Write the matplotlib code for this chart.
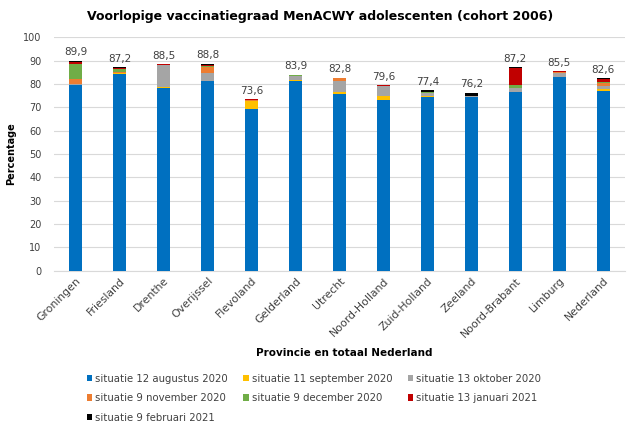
import matplotlib
matplotlib.use("Agg")
from matplotlib import pyplot as plt
import numpy as np

provincies = ["Groningen", "Friesland", "Drenthe", "Overijssel", "Flevoland", "Gelderland",
              "Utrecht", "Noord-Holland", "Zuid-Holland", "Zeeland", "Noord-Brabant",
              "Limburg", "Nederland"]

# increments per measurement moment (percentage points)
aug_2020 = [79.4, 84.5, 78.4, 81.3, 69.5, 81.2, 75.6, 73.3, 74.4, 74.5, 76.5, 82.9, 77.1]
sep_2020 = [0.2, 0.1, 0.4, 0.2, 3.2, 0.4, 1.1, 1.6, 0.5, 0.1, 0.2, 0.3, 0.8]
okt_2020 = [0.3, 0.2, 9.3, 3.4, 0.2, 1.9, 4.6, 4.2, 1.3, 0.1, 1.4, 1.7, 1.3]
nov_2020 = [2.3, 0.2, 0.1, 2.5, 0.3, 0.1, 1.2, 0.1, 0.1, 0.0, 0.0, 0.2, 1.4]
dec_2020 = [6.6, 1.5, 0.1, 0.4, 0.1, 0.2, 0.1, 0.0, 0.1, 0.0, 1.5, 0.0, 0.4]
jan_2021 = [0.5, 0.3, 0.1, 0.5, 0.3, 0.0, 0.1, 0.2, 0.4, 0.1, 7.4, 0.4, 1.3]
feb_2021 = [0.6, 0.4, 0.1, 0.5, 0.0, 0.1, 0.1, 0.2, 0.6, 1.4, 0.2, 0.0, 0.3]

totaal = [89.9, 87.2, 88.5, 88.8, 73.6, 83.9, 82.8, 79.6, 77.4, 76.2, 87.2, 85.5, 82.6]

series_labels = ["situatie 12 augustus 2020", "situatie 11 september 2020", "situatie 13 oktober 2020",
                 "situatie 9 november 2020", "situatie 9 december 2020", "situatie 13 januari 2021",
                 "situatie 9 februari 2021"]
series = [aug_2020, sep_2020, okt_2020, nov_2020, dec_2020, jan_2021, feb_2021]
colors = ["#0070C0", "#FFC000", "#A5A5A5", "#ED7D31", "#70AD47", "#C00000", "#000000"]

plt.rcParams['font.family'] = ['DejaVu Sans']

fig = plt.figure(figsize=(6.27, 4.23), dpi=100)
ax = fig.add_axes([0.086, 0.360, 0.911, 0.5516])

x = np.arange(len(provincies))
bottom = np.zeros(len(provincies))
handles = []
for vals, lab, col in zip(series, series_labels, colors):
    b = ax.bar(x, vals, 0.30, bottom=bottom, color=col, label=lab, zorder=3)
    handles.append(b)
    bottom += np.array(vals)

for xi, t in zip(x, totaal):
    ax.annotate(f"{t:.1f}".replace(".", ","), (xi, t), xytext=(0, 2.5), textcoords="offset points",
                ha="center", va="bottom", fontsize=7.5, color="#404040")

ax.set_xlim(-0.5, len(provincies) - 0.5)
ax.set_ylim(0, 100)
ax.set_yticks(range(0, 101, 10))
ax.yaxis.grid(True, color="#D9D9D9", linewidth=0.8, zorder=0)
ax.set_axisbelow(True)
for s in ["top", "right", "left"]:
    ax.spines[s].set_visible(False)
ax.spines["bottom"].set_color("#D9D9D9")
ax.tick_params(axis="both", length=0, labelsize=7, colors="#404040")
ax.tick_params(axis="x", labelsize=7.8)
ax.tick_params(axis="y", pad=9)
ax.set_xticks(x)
ax.set_xticklabels(provincies, rotation=45, ha="right", rotation_mode="anchor")

ax.set_ylabel("Percentage", fontsize=7, fontweight="bold")
ax.yaxis.set_label_coords(-0.067, 0.5)
fig.text(0.549, 0.165, "Provincie en totaal Nederland", ha="center", va="center",
         fontsize=7.5, fontweight="bold")
fig.suptitle("Voorlopige vaccinatiegraad MenACWY adolescenten (cohort 2006)",
             x=0.511, y=0.96, va="center", fontsize=9, fontweight="bold")

# matplotlib fills columns first; reorder so rows read like the original
order = [0, 3, 6, 1, 4, 2, 5]
fig.legend([handles[i] for i in order], [series_labels[i] for i in order],
           loc="upper left", bbox_to_anchor=(0.138, 0.117), ncol=3, frameon=False,
           fontsize=7.3, handlelength=0.55, handleheight=0.55, handletextpad=0.3,
           columnspacing=1.5, labelspacing=0.95, labelcolor="#404040",
           borderaxespad=0, borderpad=0)

fig.savefig("out.png", dpi=100)
